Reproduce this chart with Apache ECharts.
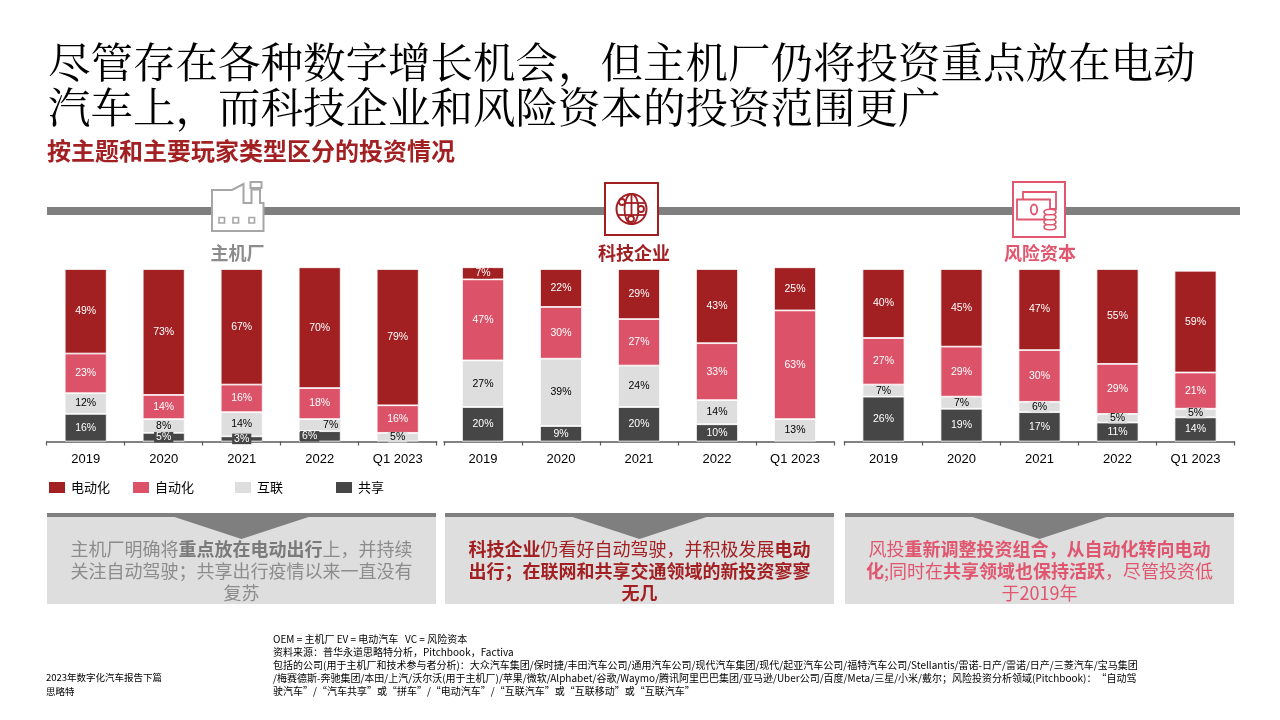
<!DOCTYPE html>
<html>
<head>
<meta charset="utf-8">
<script src="https://cdn.jsdelivr.net/npm/echarts@6/dist/echarts.min.js"></script>
<style>
html,body{margin:0;padding:0;background:#fff;}
#chart{width:1280px;height:720px;}
</style>
</head>
<body>
<div id="chart"></div>
<script>
// ---------- DATA ----------
const years = ['2019', '2020', '2021', '2022', 'Q1 2023'];
const themes = ['电动化', '自动化', '互联', '共享'];

const oemElectric   = [49, 73, 67, 70, 79];
const oemAutonomous = [23, 14, 16, 18, 16];
const oemConnected  = [12, 8, 14, 7, 5];
const oemShared     = [16, 5, 3, 6, 0];

const techElectric   = [7, 22, 29, 43, 25];
const techAutonomous = [47, 30, 27, 33, 63];
const techConnected  = [27, 39, 24, 14, 13];
const techShared     = [20, 9, 20, 10, 0];

const vcElectric   = [40, 45, 47, 55, 59];
const vcAutonomous = [27, 29, 30, 29, 21];
const vcConnected  = [7, 7, 6, 5, 5];
const vcShared     = [26, 19, 17, 11, 14];

const groupNames = ['主机厂', '科技企业', '风险资本'];

// ---------- STYLE ----------
const C_RED = '#A21F22', C_PINK = '#DC5369', C_LGRAY = '#DEDEDE', C_DGRAY = '#464646';
const themeColors = [C_RED, C_PINK, C_LGRAY, C_DGRAY];
const labelColors = ['#fff', '#fff', '#000', '#fff'];
const gridLefts = [46.7, 444, 844.5];
const gridW = 390;
const FONT = 'Arial, "Liberation Sans", "Noto Sans CJK SC", sans-serif';
const CJK = '"Noto Sans CJK SC", "Noto Sans", sans-serif';
// label offsets for crowded segments: [group][theme][index]
const labelOffsets = { '0-2-3': [11, 0], '0-3-3': [-10, 0] };

const groupData = [
  [oemElectric, oemAutonomous, oemConnected, oemShared],
  [techElectric, techAutonomous, techConnected, techShared],
  [vcElectric, vcAutonomous, vcConnected, vcShared]
];

const grids = [], xAxes = [], yAxes = [], series = [];
for (let g = 0; g < 3; g++) {
  grids.push({ left: gridLefts[g], width: gridW, top: 269, height: 172.5 });
  xAxes.push({
    type: 'category', gridIndex: g, data: years,
    axisLine: { lineStyle: { color: '#595959', width: 1.5 } },
    axisTick: { show: true, length: 4, lineStyle: { color: '#595959', width: 1.2 } },
    axisLabel: { color: '#000', fontSize: 13, fontFamily: FONT, margin: 11 }
  });
  yAxes.push({ type: 'value', gridIndex: g, min: 0, max: 100, show: false });
  // stack bottom to top: 共享, 互联, 自动化, 电动化
  for (let k = 3; k >= 0; k--) {
    const vals = groupData[g][k];
    series.push({
      type: 'bar', name: themes[k], xAxisIndex: g, yAxisIndex: g, stack: 'g' + g,
      barWidth: 42, clip: false,
      itemStyle: { color: themeColors[k], borderColor: '#fff', borderWidth: 0.8 },
      label: {
        show: true, position: 'inside', color: labelColors[k], fontSize: 10.5,
        fontFamily: FONT, backgroundColor: themeColors[k], padding: [0, 2],
        formatter: p => p.value + '%'
      },
      data: vals.map((v, i) => {
        if (v === 0) return { value: 0, label: { show: false }, itemStyle: { borderWidth: 0 } };
        const off = labelOffsets[g + '-' + k + '-' + i];
        return off ? { value: v, label: { offset: off } } : v;
      })
    });
  }
}

const legendLefts = [47, 131, 233, 334];
const legends = themes.map((t, i) => ({
  data: [t], left: legendLefts[i], top: 480, padding: 0,
  itemWidth: 18, itemHeight: 13, itemGap: 5, icon: 'rect',
  textStyle: { fontSize: 13, color: '#000', fontFamily: CJK }
}));

// ---------- GRAPHICS ----------
const graphic = [];
// Title
graphic.push({
  type: 'text', left: 48, top: 39,
  style: {
    text: '尽管存在各种数字增长机会，但主机厂仍将投资重点放在电动\n汽车上，而科技企业和风险资本的投资范围更广',
    fontSize: 42.5, lineHeight: 45, fill: '#000', fontFamily: '"Noto Serif CJK SC", "Noto Sans CJK SC", serif'
  }
});
graphic.push({
  type: 'text', left: 47, top: 139,
  style: { text: '按主题和主要玩家类型区分的投资情况', fontSize: 24, fontWeight: 'bold', fill: C_RED, fontFamily: CJK }
});
// band
graphic.push({ type: 'rect', shape: { x: 47, y: 207, width: 1193, height: 8 }, style: { fill: '#7F7F7F' } });

// Factory icon
const fg = '#A6A6A6';
graphic.push({
  type: 'polygon',
  shape: { points: [[212, 231], [212, 190], [232, 190], [243.5, 184], [243.5, 203], [251.5, 203], [251.5, 189.5], [260, 189.5], [260, 203], [263.5, 203], [263.5, 231]] },
  style: { fill: '#fff', stroke: fg, lineWidth: 2 }
});
graphic.push({ type: 'rect', shape: { x: 250.5, y: 182, width: 11, height: 6 }, style: { fill: '#fff', stroke: fg, lineWidth: 2 } });
[219, 233, 249].forEach(x => graphic.push({ type: 'rect', shape: { x: x, y: 217.5, width: 5.5, height: 5.5 }, style: { fill: '#fff', stroke: fg, lineWidth: 1.6 } }));

// Globe icon
graphic.push({ type: 'rect', shape: { x: 605, y: 183, width: 53, height: 52 }, style: { fill: '#fff', stroke: C_RED, lineWidth: 2 } });
graphic.push({ type: 'circle', shape: { cx: 631.5, cy: 209, r: 15 }, style: { fill: 'none', stroke: C_RED, lineWidth: 2 } });
graphic.push({ type: 'ellipse', shape: { cx: 631.5, cy: 209, rx: 7, ry: 15 }, style: { fill: 'none', stroke: C_RED, lineWidth: 1.8 } });
graphic.push({ type: 'line', shape: { x1: 631.5, y1: 194, x2: 631.5, y2: 224 }, style: { stroke: C_RED, lineWidth: 1.8 } });
graphic.push({ type: 'line', shape: { x1: 618, y1: 203, x2: 645, y2: 203 }, style: { stroke: C_RED, lineWidth: 1.8 } });
graphic.push({ type: 'line', shape: { x1: 618, y1: 215, x2: 645, y2: 215 }, style: { stroke: C_RED, lineWidth: 1.8 } });
[[622, 202], [641, 209], [631, 219]].forEach(p => graphic.push({ type: 'circle', shape: { cx: p[0], cy: p[1], r: 3 }, style: { fill: '#fff', stroke: C_RED, lineWidth: 1.8 } }));

// Money icon
const CP = '#E0566E';
graphic.push({ type: 'rect', shape: { x: 1013, y: 182, width: 52, height: 55 }, style: { fill: '#fff', stroke: CP, lineWidth: 2 } });
graphic.push({ type: 'rect', shape: { x: 1023, y: 192, width: 33, height: 17 }, style: { fill: '#fff', stroke: CP, lineWidth: 1.8 } });
graphic.push({ type: 'rect', shape: { x: 1017, y: 199.5, width: 33, height: 20 }, style: { fill: '#fff', stroke: CP, lineWidth: 1.8 } });
graphic.push({ type: 'ellipse', shape: { cx: 1034, cy: 209.5, rx: 3.2, ry: 5 }, style: { fill: 'none', stroke: CP, lineWidth: 1.8 } });
[227, 222, 217, 212].forEach(y => graphic.push({ type: 'ellipse', shape: { cx: 1050, cy: y, rx: 6, ry: 2.8 }, style: { fill: '#fff', stroke: CP, lineWidth: 1.6 } }));

// group labels
const glabelX = [237.5, 634, 1040];
const glabelC = ['#8C8C8C', C_RED, CP];
groupNames.forEach((n, i) => graphic.push({
  type: 'text', x: glabelX[i], y: 253,
  style: { text: n, fontSize: 18, fontWeight: 'bold', fill: glabelC[i], align: 'center', verticalAlign: 'middle', fontFamily: CJK }
}));

// text boxes
const boxL = [47, 445, 845];
const boxTexts = [
  '{n|主机厂明确将}{b|重点放在电动出行}{n|上，并持续}\n{n|关注自动驾驶；共享出行疫情以来一直没有}\n{n|复苏}',
  '{b|科技企业}{n|仍看好自动驾驶，并积极发展}{b|电动}\n{b|出行；在联网和共享交通领域的新投资寥寥}\n{b|无几}',
  '{n|风投}{b|重新调整投资组合，从自动化转向电动}\n{b|化}{n|;同时在}{b|共享领域也保持活跃}{n|，尽管投资低}\n{n|于2019年}'
];
const boxColors = [['#8C8C8C', '#7A7A7A'], [C_RED, C_RED], [CP, CP]];
boxL.forEach((x, i) => {
  const w = 389, cx = x + w / 2;
  graphic.push({ type: 'rect', shape: { x: x, y: 513, width: w, height: 91 }, style: { fill: '#DEDEDE' } });
  graphic.push({ type: 'rect', shape: { x: x, y: 513, width: w, height: 4 }, style: { fill: '#7F7F7F' } });
  graphic.push({ type: 'polygon', shape: { points: [[cx - 70, 516], [cx + 70, 516], [cx, 539]] }, style: { fill: '#7F7F7F' } });
  graphic.push({
    type: 'text', x: cx, y: 538,
    style: {
      text: boxTexts[i], align: 'center', verticalAlign: 'top', fontFamily: CJK,
      rich: {
        n: { fontSize: 18, lineHeight: 22, fill: boxColors[i][0], fontFamily: CJK },
        b: { fontSize: 18, lineHeight: 22, fill: boxColors[i][1], fontWeight: 'bold', fontFamily: CJK }
      }
    }
  });
});

// footnotes
graphic.push({
  type: 'text', left: 273, top: 633,
  style: {
    text: 'OEM = 主机厂 EV = 电动汽车   VC = 风险资本\n资料来源：普华永道思略特分析，Pitchbook，Factiva\n包括的公司(用于主机厂和技术参与者分析)：大众汽车集团/保时捷/丰田汽车公司/通用汽车公司/现代汽车集团/现代/起亚汽车公司/福特汽车公司/Stellantis/雷诺-日产/雷诺/日产/三菱汽车/宝马集团\n/梅赛德斯-奔驰集团/本田/上汽/沃尔沃(用于主机厂)/苹果/微软/Alphabet/谷歌/Waymo/腾讯阿里巴巴集团/亚马逊/Uber公司/百度/Meta/三星/小米/戴尔；风险投资分析领域(Pitchbook)：“自动驾\n驶汽车”/“汽车共享”或“拼车”/“电动汽车”/“互联汽车”或“互联移动”或“互联汽车”',
    fontSize: 10, lineHeight: 13, fill: '#000', fontFamily: CJK
  }
});
graphic.push({
  type: 'text', left: 46, top: 670,
  style: { text: '2023年数字化汽车报告下篇\n思略特', fontSize: 9.5, lineHeight: 14.5, fill: '#000', fontFamily: CJK }
});

const chart = echarts.init(document.getElementById('chart'));
chart.setOption({
  backgroundColor: '#fff',
  animation: false,
  grid: grids,
  xAxis: xAxes,
  yAxis: yAxes,
  legend: legends,
  series: series,
  graphic: graphic
});
</script>
</body>
</html>
